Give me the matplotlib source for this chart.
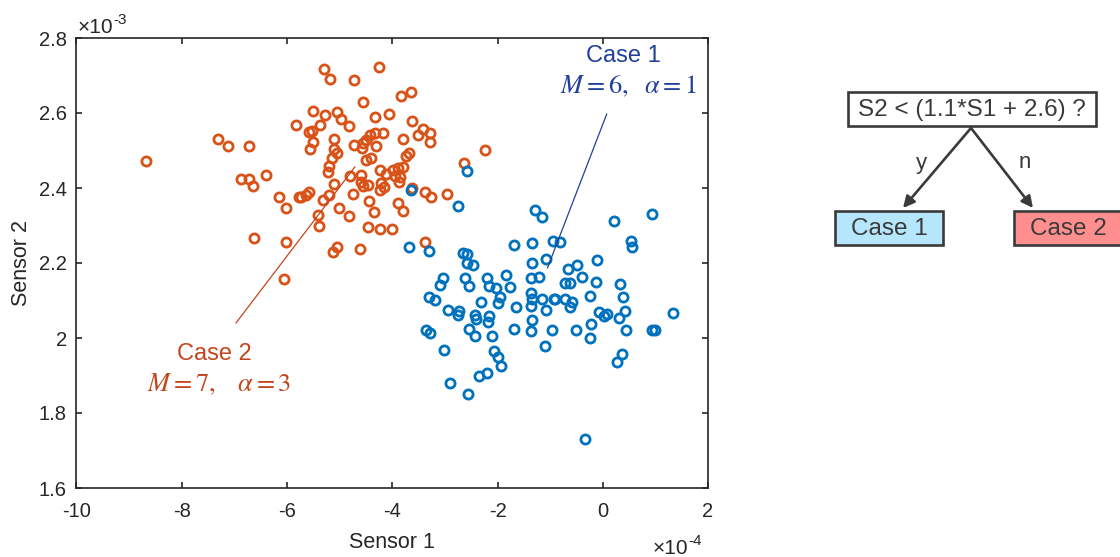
import matplotlib
matplotlib.use("Agg")
import matplotlib.pyplot as plt
from matplotlib.patches import Rectangle, FancyArrowPatch

plt.rcParams['font.family'] = ['Liberation Sans', 'DejaVu Sans']
plt.rcParams['mathtext.fontset'] = 'stix'
plt.rcParams['axes.unicode_minus'] = False

# ---------------- data (Sensor 1 in 1e-4, Sensor 2 in 1e-3) ----------------
case2_s1 = [-8.68, -7.31, -7.12, -6.72, -5.82, -6.87, -6.72, -6.65, -6.40, -6.16,
            -6.01, -5.78, -6.63, -6.01, -6.06, -5.29, -5.18, -4.26, -4.73, -3.84,
            -3.65, -4.56, -5.50, -5.27, -5.05, -4.97, -4.82, -5.59, -5.52, -5.37,
            -5.50, -5.57, -4.33, -4.07, -3.63, -3.41, -3.28, -3.52, -3.28, -3.79,
            -4.18, -4.33, -4.43, -4.50, -4.56, -4.31, -4.73, -4.58, -5.10, -5.10,
            -5.05, -5.14, -4.50, -4.41, -3.69, -3.73, -5.20, -5.22, -4.80, -4.60,
            -4.24, -4.11, -3.99, -3.90, -3.79, -3.94, -3.86, -3.88, -4.22, -4.16,
            -4.24, -4.60, -4.56, -4.46, -5.10, -5.59, -5.74, -5.63, -5.20, -5.31,
            -4.75, -4.44, -3.90, -3.79, -4.35, -5.01, -4.82, -5.42, -5.39, -4.46,
            -4.24, -4.01, -5.05, -5.12, -4.61, -3.37, -3.26, -2.96, -3.62, -2.64,
            -3.37, -2.24]
case2_s2 = [2.472, 2.531, 2.512, 2.512, 2.568, 2.424, 2.424, 2.405, 2.435, 2.376,
            2.347, 2.376, 2.267, 2.256, 2.157, 2.717, 2.691, 2.723, 2.688, 2.645,
            2.656, 2.629, 2.605, 2.595, 2.603, 2.584, 2.565, 2.549, 2.552, 2.568,
            2.523, 2.504, 2.589, 2.597, 2.579, 2.557, 2.547, 2.541, 2.523, 2.531,
            2.547, 2.547, 2.541, 2.528, 2.520, 2.512, 2.515, 2.507, 2.531, 2.504,
            2.493, 2.480, 2.475, 2.480, 2.493, 2.485, 2.459, 2.443, 2.432, 2.435,
            2.448, 2.437, 2.448, 2.453, 2.456, 2.432, 2.429, 2.416, 2.413, 2.403,
            2.395, 2.416, 2.405, 2.408, 2.411, 2.389, 2.376, 2.381, 2.381, 2.368,
            2.384, 2.365, 2.360, 2.339, 2.336, 2.347, 2.325, 2.328, 2.299, 2.296,
            2.291, 2.291, 2.243, 2.229, 2.237, 2.389, 2.376, 2.384, 2.400, 2.467,
            2.256, 2.501]

case1_s1 = [-2.58, -3.65, -2.75, -1.28, -1.15, -3.69, -3.30, -1.69, -1.34, -0.94,
            -1.07, -1.34, -2.66, -2.58, -2.58, -2.47, -3.03, -3.09, -2.62, -2.54,
            -2.20, -2.17, -2.02, -1.83, -1.77, -1.36, -1.21, -1.96, -2.00, -2.32,
            -1.36, -1.34, -1.37, -1.15, -0.92, -1.07, -1.64, -3.30, -3.18, -2.94,
            -2.73, -2.75, -2.43, -2.41, -2.17, -2.18, -1.34, -3.35, -3.28, -2.54,
            -2.43, -2.11, -1.69, -1.37, -0.96, -3.01, -2.07, -2.00, -1.94, -1.09,
            -2.35, -2.20, -2.90, -2.56, 0.21, 0.94, -0.81, 0.53, 0.56, -0.11,
            -0.66, -0.49, -0.40, -0.72, -0.62, -0.13, 0.32, 0.38, -0.24, -0.90,
            -0.72, -0.58, -0.62, -0.08, 0.02, 0.08, 0.43, 0.30, 1.34, -0.23,
            -0.24, -0.51, 0.45, 0.94, 1.00, 0.36, 0.28, -0.34]
case1_s2 = [2.445, 2.395, 2.352, 2.341, 2.323, 2.243, 2.232, 2.248, 2.253, 2.259,
            2.211, 2.200, 2.227, 2.224, 2.200, 2.195, 2.160, 2.141, 2.160, 2.139,
            2.160, 2.139, 2.133, 2.168, 2.136, 2.160, 2.163, 2.109, 2.093, 2.096,
            2.120, 2.104, 2.085, 2.104, 2.104, 2.075, 2.083, 2.109, 2.101, 2.075,
            2.072, 2.061, 2.061, 2.051, 2.059, 2.043, 2.048, 2.021, 2.013, 2.024,
            2.005, 2.005, 2.024, 2.019, 2.021, 1.968, 1.965, 1.949, 1.925, 1.979,
            1.899, 1.907, 1.880, 1.851, 2.312, 2.331, 2.256, 2.259, 2.243, 2.208,
            2.184, 2.195, 2.163, 2.147, 2.147, 2.149, 2.144, 2.109, 2.112, 2.104,
            2.104, 2.096, 2.083, 2.069, 2.059, 2.064, 2.072, 2.053, 2.067, 2.037,
            2.000, 2.021, 2.021, 2.021, 2.021, 1.957, 1.936, 1.731]

x_ticks = [-10, -8, -6, -4, -2, 0, 2]
x_tick_labels = ['-10', '-8', '-6', '-4', '-2', '0', '2']
y_ticks = [1.6, 1.8, 2.0, 2.2, 2.4, 2.6, 2.8]
y_tick_labels = ['1.6', '1.8', '2', '2.2', '2.4', '2.6', '2.8']

blue = '#0072BD'
orange = '#D95319'
dark_blue = '#20409A'
dark_orange = '#C4451C'
gray = '#3A3A3A'
axcol = '#262626'

# ---------------- figure ----------------
fig = plt.figure(figsize=(11.2, 5.57), dpi=100)
W, H = 1120, 557
ax = fig.add_axes([76.5 / W, 1 - 488 / H, 631.5 / W, 450 / H])

ax.plot(case2_s1, case2_s2, 'o', mfc='none', mec=orange, ms=6.6, mew=2.0)
ax.plot(case1_s1, case1_s2, 'o', mfc='none', mec=blue, ms=6.6, mew=2.0)

ax.set_xlim(-10, 2)
ax.set_ylim(1.6, 2.8)
ax.set_xticks(x_ticks)
ax.set_xticklabels(x_tick_labels)
ax.set_yticks(y_ticks)
ax.set_yticklabels(y_tick_labels)
ax.tick_params(direction='in', length=4.5, width=1.2, labelsize=14.5,
               colors=axcol, top=True, right=True)
ax.tick_params(axis='x', pad=10)
ax.tick_params(axis='y', pad=7)
for s in ax.spines.values():
    s.set_color(axcol)
    s.set_linewidth(1.2)
ax.set_xlabel('Sensor 1', fontsize=15.5, color=axcol, labelpad=8)
ax.set_ylabel('Sensor 2', fontsize=15.5, color=axcol, labelpad=5)

# exponent labels (hyphen superscripts, as in the original)
t1 = fig.text(78 / W, 1 - 33 / H, '\u00d710', fontsize=15, color=axcol,
              ha='left', va='baseline')
ax.annotate('-3', xy=(1.0, 0.55), xycoords=t1, fontsize=11, color=axcol,
            ha='left', va='bottom', annotation_clip=False)
t2 = fig.text(653 / W, 1 - 554 / H, '\u00d710', fontsize=15, color=axcol,
              ha='left', va='baseline')
ax.annotate('-4', xy=(1.0, 0.55), xycoords=t2, fontsize=11, color=axcol,
            ha='left', va='bottom', annotation_clip=False)

# annotations
ax.plot([0.075, -1.05], [2.597, 2.187], color=dark_blue, lw=0.9)
ax.text(0.40, 2.752, 'Case 1', color=dark_blue, fontsize=17, ha='center', va='center')
ax.text(0.49, 2.672, r'$M=6,\ \ \alpha=1$', color=dark_blue, fontsize=19,
        ha='center', va='center')
ax.plot([-6.97, -4.71], [2.04, 2.456], color=dark_orange, lw=0.9)
ax.text(-7.38, 1.957, 'Case 2', color=dark_orange, fontsize=17, ha='center', va='center')
ax.text(-7.28, 1.876, r'$M=7,\ \ \ \alpha=3$', color=dark_orange, fontsize=19,
        ha='center', va='center')

# ---------------- decision tree (pixel coordinates overlay) ----------------
ov = fig.add_axes([0, 0, 1, 1], zorder=5)
ov.set_xlim(0, W)
ov.set_ylim(H, 0)
ov.axis('off')
ov.patch.set_alpha(0)

ov.add_patch(Rectangle((848, 92), 248, 34, fill=False, ec=gray, lw=1.9))
ov.text(972, 110, 'S2 < (1.1*S1 + 2.6) ?', fontsize=17.5, color=gray,
        ha='center', va='center')
ov.add_patch(Rectangle((835, 211), 108, 34, fc='#B6E6FB', ec=gray, lw=1.9))
ov.text(889, 229, 'Case 1', fontsize=17.5, color=gray, ha='center', va='center')
ov.add_patch(Rectangle((1014, 211), 110, 34, fc='#FF8E8E', ec=gray, lw=1.9))
ov.text(1068, 229, 'Case 2', fontsize=17.5, color=gray, ha='center', va='center')

for (x0, y0, x1, y1) in [(971, 128, 903, 208), (971, 128, 1033, 208)]:
    ov.add_patch(FancyArrowPatch((x0, y0), (x1, y1), arrowstyle='-|>',
                                 mutation_scale=17, color=gray, lw=1.9,
                                 shrinkA=0, shrinkB=0))
ov.text(921, 164, 'y', fontsize=16, color=gray, ha='center', va='center')
ov.text(1025, 162, 'n', fontsize=16, color=gray, ha='center', va='center')

fig.savefig('out.png', dpi=100)
